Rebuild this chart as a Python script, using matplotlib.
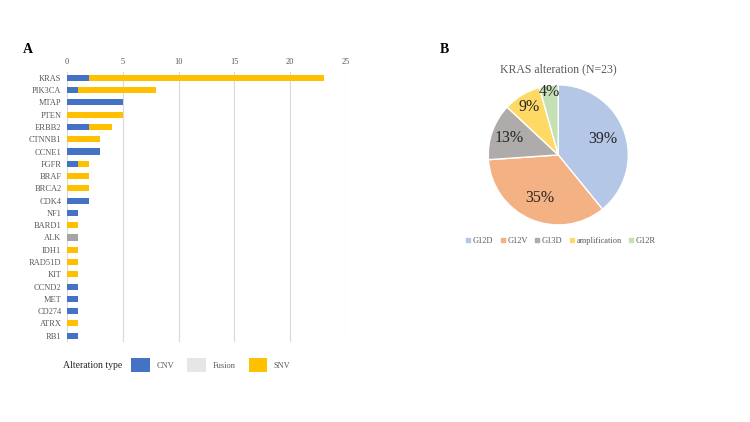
import numpy as np
import matplotlib
matplotlib.use('Agg')
import matplotlib.pyplot as plt
from matplotlib.patches import Patch
from matplotlib.lines import Line2D

plt.rcParams['font.family'] = ['Liberation Serif', 'DejaVu Serif']

# panel A data
genes = ['KRAS', 'PIK3CA', 'MTAP', 'PTEN', 'ERBB2', 'CTNNB1', 'CCNE1', 'FGFR', 'BRAF', 'BRCA2',
         'CDK4', 'NF1', 'BARD1', 'ALK', 'IDH1', 'RAD51D', 'KIT', 'CCND2', 'MET', 'CD274', 'ATRX', 'RB1']
cnv = [2, 1, 5, 0, 2, 0, 3, 1, 0, 0, 2, 1, 0, 0, 0, 0, 0, 1, 1, 1, 0, 1]
fusion = [0, 0, 0, 0, 0, 0, 0, 0, 0, 0, 0, 0, 0, 1, 0, 0, 0, 0, 0, 0, 0, 0]
snv = [21, 7, 0, 5, 2, 3, 0, 1, 2, 2, 0, 0, 1, 0, 1, 1, 1, 0, 0, 0, 1, 0]

# panel B data
kras_types = ['G12D', 'G12V', 'G13D', 'amplification', 'G12R']
kras_counts = [9, 8, 3, 2, 1]

c_cnv = '#4472C4'
c_fus = '#A5A5A5'
c_snv = '#FFC000'
pie_colors = ['#B4C7E7', '#F4B183', '#AFABAB', '#FFD966', '#C5E0B4']
txt_gray = '#595959'

fig = plt.figure(figsize=(7.5, 4.22), dpi=100)

# bar chart
ax = fig.add_axes([0.0893, 0.19, 0.372, 0.64])
y = np.arange(len(genes))
cnv = np.array(cnv)
fusion = np.array(fusion)
snv = np.array(snv)
ax.barh(y, cnv, height=0.5, color=c_cnv)
ax.barh(y, fusion, left=cnv, height=0.5, color=c_fus)
ax.barh(y, snv, left=cnv + fusion, height=0.5, color=c_snv)
ax.set_ylim(len(genes) - 0.5, -0.5)
ax.set_xlim(0, 25)
ax.set_xticks([0, 5, 10, 15, 20, 25])
ax.xaxis.tick_top()
ax.set_yticks(y)
ax.set_yticklabels(genes)
ax.tick_params(axis='both', length=0, labelsize=6, colors=txt_gray, pad=4)
ax.grid(axis='x', color='#D9D9D9', linewidth=0.8)
ax.set_axisbelow(True)
for s in ax.spines.values():
    s.set_visible(False)

fig.text(0.031, 0.875, 'A', fontsize=10, fontweight='bold')
fig.text(0.586, 0.875, 'B', fontsize=10, fontweight='bold')

# legend for bar chart
handles = [Patch(facecolor=c_cnv), Patch(facecolor='#E7E6E6'), Patch(facecolor=c_snv)]
leg = fig.legend(handles, ['CNV', 'Fusion', 'SNV'], loc='center left',
                 bbox_to_anchor=(0.165, 0.135), ncol=3, frameon=False, fontsize=6,
                 handlelength=2.2, handleheight=2.2, columnspacing=1.6, handletextpad=0.8,
                 labelcolor=txt_gray)
fig.text(0.084, 0.135, 'Alteration type', fontsize=7, va='center', color='#262626')

# pie chart
ax2 = fig.add_axes([0.651, 0.467, 0.1867, 0.3318])
wedges, texts, autotexts = ax2.pie(kras_counts, colors=pie_colors, startangle=90, counterclock=False,
                                   autopct='%1.0f%%', pctdistance=0.7,
                                   wedgeprops=dict(edgecolor='white', linewidth=1),
                                   textprops=dict(fontsize=11.5, color='#262626'))
# excel-like label placement: small slices pushed outward
lab_dist = [0.67, 0.67, 0.74, 0.8, 0.9]
for w, t, d in zip(wedges, autotexts, lab_dist):
    ang = np.deg2rad((w.theta1 + w.theta2) / 2)
    t.set_position((d * np.cos(ang), d * np.sin(ang)))
ax2.set_xlim(-1, 1)
ax2.set_ylim(-1, 1)
ax2.set_aspect('equal')
ax2.set_title('KRAS alteration (N=23)', fontsize=8.5, color=txt_gray, pad=9)

lh = [Line2D([0], [0], marker='s', color='none', markerfacecolor=c, markeredgecolor=c, markersize=2.2)
      for c in pie_colors]
fig.legend(lh, kras_types, loc='center', bbox_to_anchor=(0.748, 0.43), ncol=5, frameon=False,
           fontsize=6, handlelength=0.5, handletextpad=0.3, columnspacing=0.9, labelcolor=txt_gray)

fig.savefig('out.png', dpi=100)
